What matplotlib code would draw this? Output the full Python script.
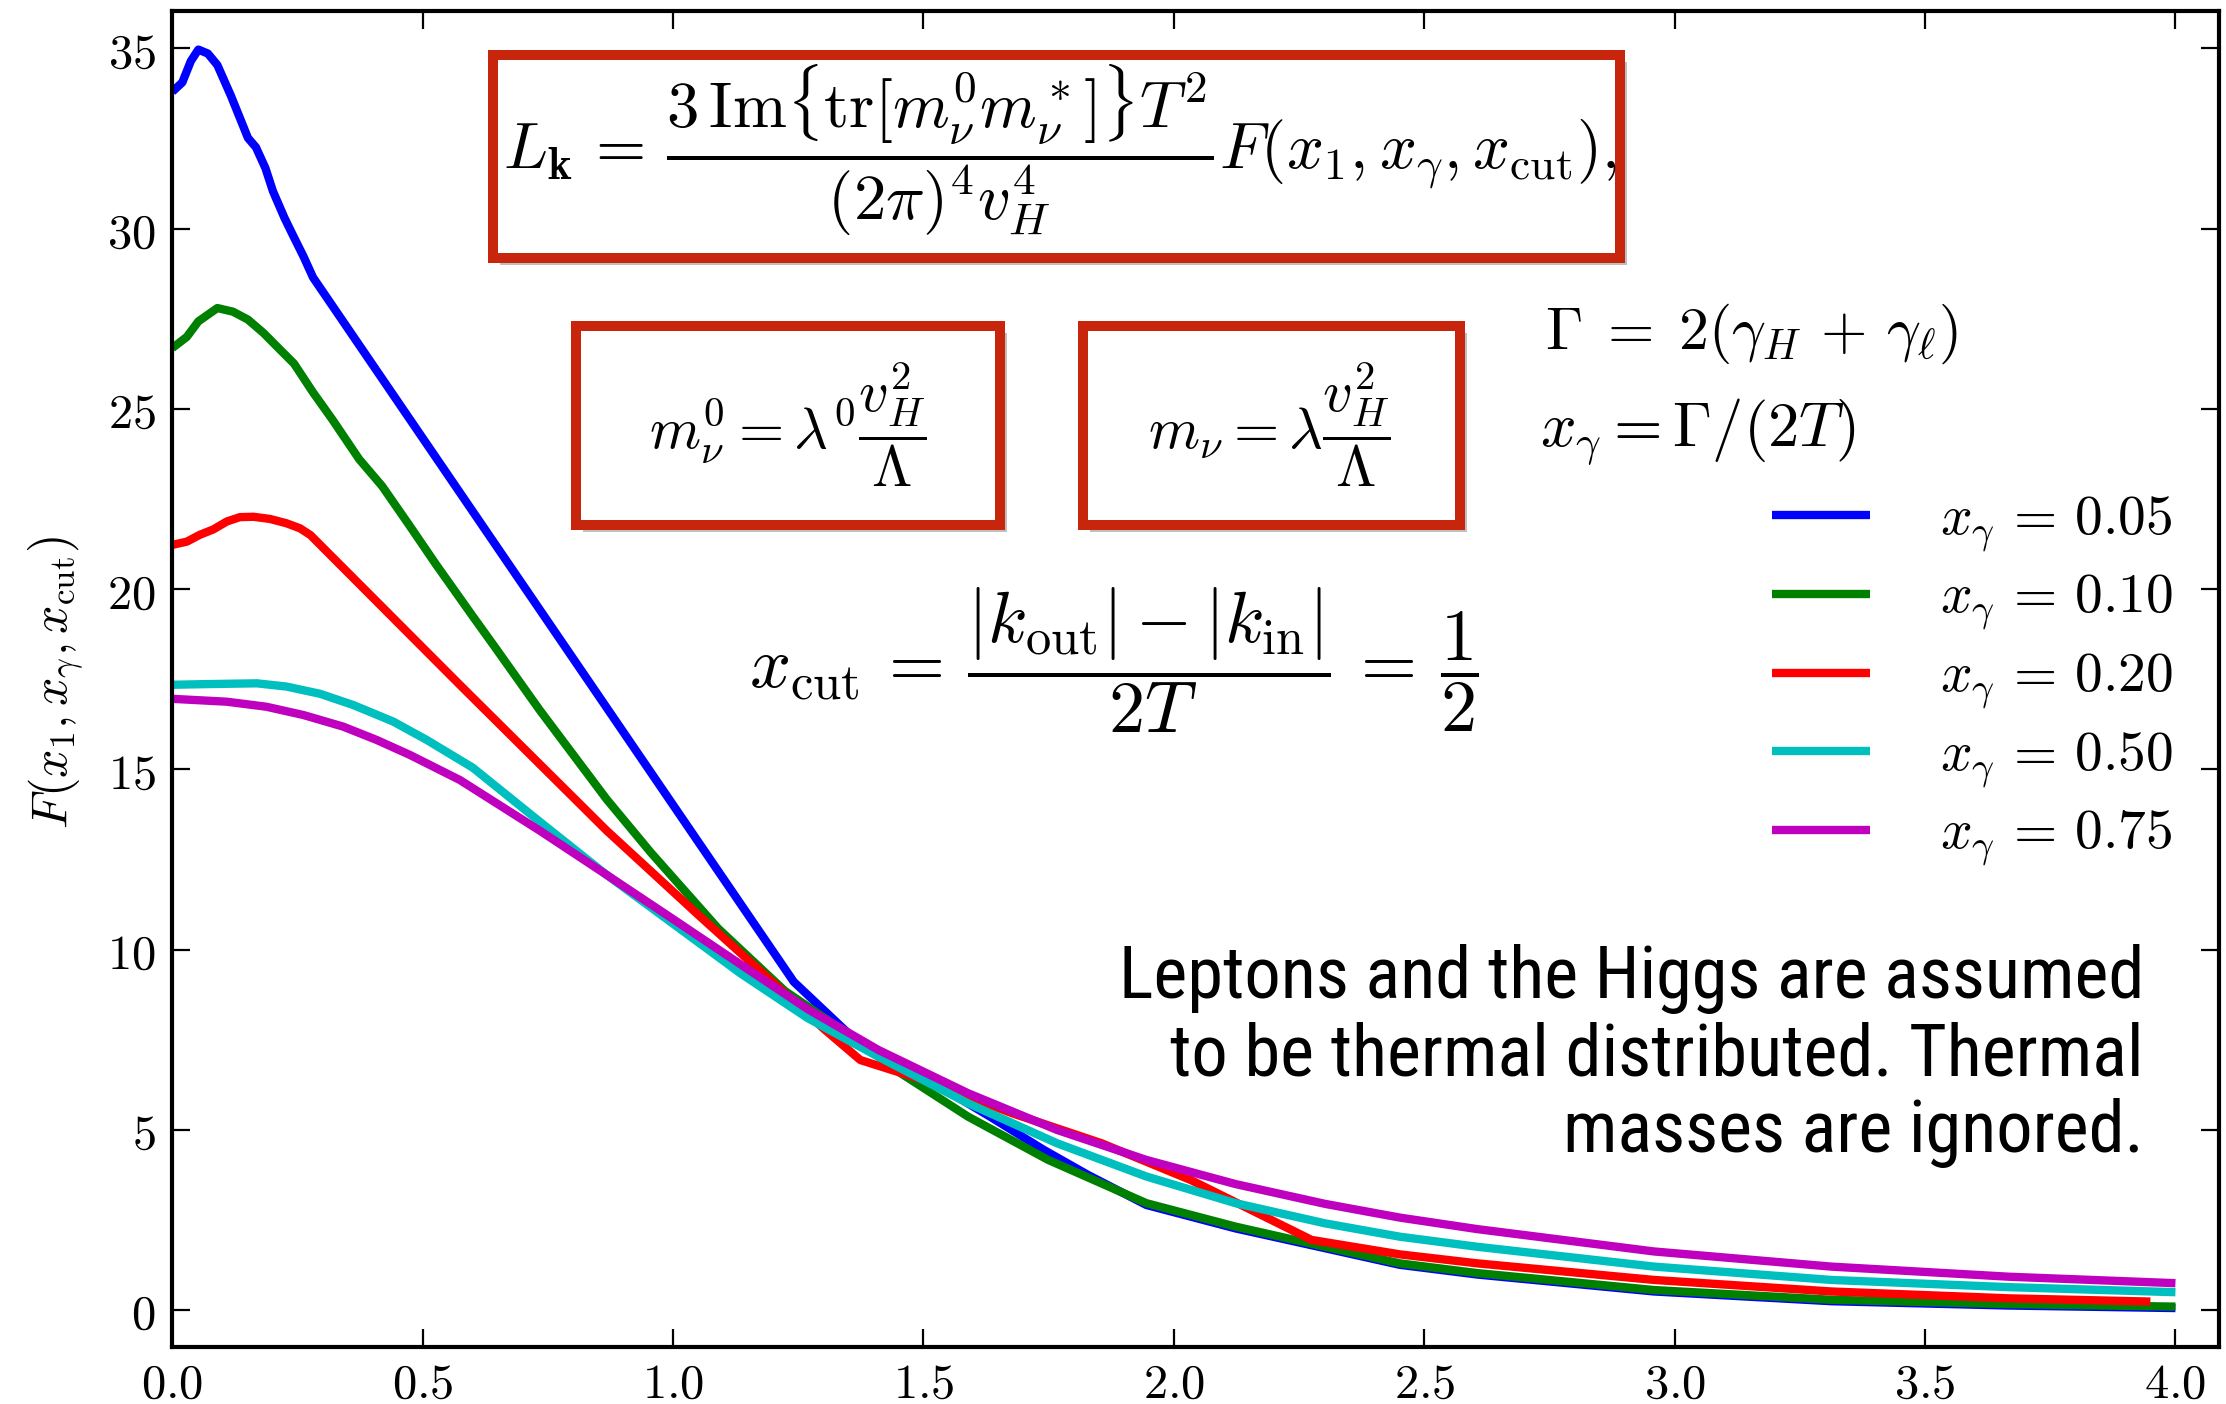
import matplotlib
matplotlib.use("Agg")
import matplotlib.pyplot as plt
import matplotlib.patheffects as pe
from matplotlib.patches import Rectangle
from matplotlib.ticker import FuncFormatter
from matplotlib import font_manager
from matplotlib.font_manager import FontProperties

plt.rcParams['mathtext.fontset'] = 'cm'

# ---------------- data ----------------
series_labels = [r'$x_\gamma\, =\, 0.05$', r'$x_\gamma\, =\, 0.10$', r'$x_\gamma\, =\, 0.20$',
                 r'$x_\gamma\, =\, 0.50$', r'$x_\gamma\, =\, 0.75$']
series_colors = ['#0000ff', '#008000', '#ff0000', '#00bfbf', '#bf00bf']

x_005 = [0.0, 0.02, 0.037, 0.052, 0.071, 0.09, 0.117, 0.151, 0.167, 0.186, 0.201, 0.224,
         0.243, 0.262, 0.281, 1.241, 1.357, 1.499, 1.633, 1.740, 1.829, 1.945, 2.123,
         2.302, 2.451, 2.606, 2.959, 3.313, 3.667, 4.0]
y_005 = [33.8, 34.06, 34.65, 34.97, 34.86, 34.54, 33.69, 32.52, 32.26, 31.68, 31.04, 30.30,
         29.76, 29.23, 28.65, 9.11, 7.59, 6.48, 5.37, 4.45, 3.75, 2.92, 2.27,
         1.72, 1.26, 0.99, 0.52, 0.25, 0.13, 0.06]

x_010 = [0.0, 0.029, 0.052, 0.09, 0.121, 0.151, 0.182, 0.212, 0.243, 0.281, 0.319, 0.373,
         0.419, 0.472, 0.526, 0.6, 0.644, 0.733, 0.867, 0.956, 1.09, 1.223, 1.357, 1.455,
         1.589, 1.749, 1.945, 2.123, 2.302, 2.451, 2.606, 2.959, 3.313, 3.667, 4.0]
y_010 = [26.69, 27.0, 27.43, 27.80, 27.70, 27.48, 27.11, 26.69, 26.26, 25.46, 24.72, 23.61,
         22.86, 21.80, 20.70, 19.25, 18.40, 16.66, 14.18, 12.69, 10.59, 8.86, 7.59, 6.57,
         5.37, 4.17, 2.97, 2.32, 1.76, 1.30, 1.03, 0.56, 0.29, 0.17, 0.10]

x_020 = [0.0, 0.029, 0.055, 0.082, 0.109, 0.135, 0.162, 0.195, 0.228, 0.255, 0.276, 0.574,
         0.867, 1.054, 1.187, 1.303, 1.374, 1.499, 1.678, 1.856, 2.034, 2.275, 2.451,
         2.606, 2.959, 3.313, 3.667, 3.95]
y_020 = [21.23, 21.32, 21.51, 21.66, 21.88, 22.0, 22.01, 21.95, 21.83, 21.69, 21.5, 17.35,
         13.31, 10.92, 9.25, 7.78, 6.94, 6.39, 5.46, 4.63, 3.61, 1.95, 1.55,
         1.30, 0.84, 0.52, 0.33, 0.24]

x_050 = [0.0, 0.075, 0.169, 0.228, 0.295, 0.361, 0.441, 0.508, 0.6, 0.733, 0.867, 1.001,
         1.134, 1.268, 1.410, 1.589, 1.767, 1.945, 2.123, 2.302, 2.451, 2.606, 2.959,
         3.313, 3.667, 4.0]
y_050 = [17.35, 17.37, 17.39, 17.30, 17.10, 16.79, 16.33, 15.82, 15.05, 13.56, 12.08, 10.71,
         9.35, 8.11, 7.03, 5.74, 4.63, 3.71, 2.97, 2.41, 2.04, 1.76, 1.21,
         0.84, 0.64, 0.50]

x_075 = [0.0, 0.109, 0.188, 0.262, 0.341, 0.408, 0.475, 0.574, 0.733, 0.867, 1.001, 1.134,
         1.268, 1.410, 1.589, 1.767, 1.945, 2.123, 2.302, 2.451, 2.606, 2.959, 3.313,
         3.667, 4.0]
y_075 = [16.96, 16.88, 16.74, 16.51, 16.19, 15.82, 15.40, 14.71, 13.31, 12.08, 10.84, 9.60,
         8.36, 7.22, 6.02, 5.0, 4.17, 3.50, 2.95, 2.57, 2.25, 1.63, 1.21,
         0.93, 0.75]

series_x = [x_005, x_010, x_020, x_050, x_075]
series_y = [y_005, y_010, y_020, y_050, y_075]

x_ticks = [0.0, 0.5, 1.0, 1.5, 2.0, 2.5, 3.0, 3.5, 4.0]
y_ticks = [0, 5, 10, 15, 20, 25, 30, 35]

note_text = 'Leptons and the Higgs are assumed\nto be thermal distributed. Thermal\nmasses are ignored.'

# ---------------- figure ----------------
W, H = 2226, 1404
DPI = 200
fig = plt.figure(figsize=(W / DPI, H / DPI), dpi=DPI)

def fx(px):
    return px / W

def fy(py):
    return 1 - py / H

ax_l, ax_r, ax_t, ax_b = 172.3, 2219.0, 11.0, 1347.0
ax = fig.add_axes([fx(ax_l), fy(ax_b), fx(ax_r) - fx(ax_l), fy(ax_t) - fy(ax_b)])

for xs, ys, c, lab in zip(series_x, series_y, series_colors, series_labels):
    ax.plot(xs, ys, color=c, lw=3.0, label=lab, solid_capstyle='butt')

ax.set_xlim(0, 4.087)
ax.set_ylim(-1.02, 36.04)
ax.set_xticks(x_ticks)
ax.set_yticks(y_ticks)
ax.xaxis.set_major_formatter(FuncFormatter(lambda v, p: r'$%.1f$' % v))
ax.yaxis.set_major_formatter(FuncFormatter(lambda v, p: r'$%d$' % round(v)))
ax.tick_params(direction='in', top=True, right=True, length=6.5, width=0.8,
               labelsize=17.5)
ax.tick_params(axis='x', pad=4.5)
ax.tick_params(axis='y', pad=6)
for s in ax.spines.values():
    s.set_linewidth(1.5)

ax.set_ylabel(r'$F(x_1, x_\gamma, x_{\mathrm{cut}})$', fontsize=18)
ax.yaxis.set_label_coords((86 - ax_l) / (ax_r - ax_l), 0.497)

leg = ax.legend(loc='center left',
                bbox_to_anchor=((1772 - ax_l) / (ax_r - ax_l), (ax_b - 681) / (ax_b - ax_t)),
                frameon=False, fontsize=20, handlelength=1.77, handletextpad=1.25,
                labelspacing=0.30, borderpad=0, borderaxespad=0)

# ---------------- boxes ----------------
red = '#c8260c'
shadow = [pe.SimplePatchShadow(offset=(2.5, -2.5), shadow_rgbFace='0.45', alpha=0.45), pe.Normal()]

def box(x0, y0, x1, y1):
    r = Rectangle((fx(x0), fy(y1)), fx(x1) - fx(x0), fy(y0) - fy(y1), transform=fig.transFigure,
                  facecolor='white', edgecolor=red, lw=3.6, zorder=3)
    r.set_path_effects(shadow)
    fig.add_artist(r)

box(493, 55, 1620, 258)
box(576, 326, 1000, 525)
box(1083, 326, 1460, 525)

fig.text(fx(1060), fy(150),
         r'$L_{\mathbf{k}}\,=\,\dfrac{3\,\mathrm{Im}\{\mathrm{tr}[m_\nu^0 m_\nu^*]\}T^2}{(2\pi)^4 v_H^4}F(x_1, x_\gamma, x_{\mathrm{cut}}),$',
         fontsize=23.3, ha='center', va='center', zorder=5)
fig.text(fx(788), fy(425), r'$m_\nu^0 = \lambda^0\dfrac{v_H^2}{\Lambda}$',
         fontsize=21, ha='center', va='center', zorder=5)
fig.text(fx(1269), fy(425), r'$m_\nu = \lambda\dfrac{v_H^2}{\Lambda}$',
         fontsize=21, ha='center', va='center', zorder=5)

fig.text(fx(1545), fy(334), r'$\Gamma\;=\;2(\gamma_H\,+\,\gamma_\ell)$', fontsize=21.5,
         ha='left', va='center')
fig.text(fx(1540), fy(432), r'$x_\gamma = \Gamma/(2T)$', fontsize=22.5, ha='left', va='center')
fig.text(fx(1114), fy(660),
         r'$x_{\mathrm{cut}}\, =\, \dfrac{|k_{\mathrm{out}}| - |k_{\mathrm{in}}|}{2T}\, =\, \dfrac{1}{2}$',
         fontsize=26, ha='center', va='center')

# ---- narrow sans font for the note, if one is installed ----
def find_narrow():
    prefs = ['Liberation Sans Narrow', 'Roboto Condensed', 'Open Sans Condensed',
             'Noto Sans Condensed', 'Noto Sans', 'DejaVu Sans Condensed', 'DejaVu Sans',
             'Open Sans', 'Roboto', 'Inter']
    best = None
    for f in font_manager.fontManager.ttflist:
        if f.style != 'normal':
            continue
        w = f.weight
        if isinstance(w, str):
            if w not in ('normal', 'regular', 'book', 'roman'):
                continue
        elif w != 400:
            continue
        st = str(f.stretch)
        fn = f.fname.lower()
        narrow = ('narrow' in f.name.lower() or 'condensed' in f.name.lower() or
                  st in ('condensed', 'semi-condensed', 'extra-condensed') or
                  'condensed' in fn or 'narrow' in fn)
        if not narrow or 'semi' in fn or 'extra' in fn or 'semicondensed' in fn:
            continue
        if 'bold' in fn or 'italic' in fn or 'oblique' in fn or 'light' in fn or 'medium' in fn:
            continue
        rank = len(prefs)
        for i, p in enumerate(prefs):
            if f.name == p or f.name.startswith(p):
                rank = i
                break
        if best is None or rank < best[0]:
            best = (rank, f.fname)
    return best[1] if best else None

nf = find_narrow()
if nf:
    fp = FontProperties(fname=nf, size=24)
else:
    fp = FontProperties(family='Liberation Sans', size=24)

note = fig.text(fx(2144), fy(1056), note_text, fontproperties=fp, ha='right', va='center',
                multialignment='right', linespacing=1.13)
# fit the note's width to the reference width (about 1026 px)
fig.canvas.draw()
bb = note.get_window_extent()
scale = 1026.0 / bb.width
new_size = max(18, min(30, 24 * scale))
note.set_fontsize(new_size)

fig.savefig('out.png', dpi=DPI)
